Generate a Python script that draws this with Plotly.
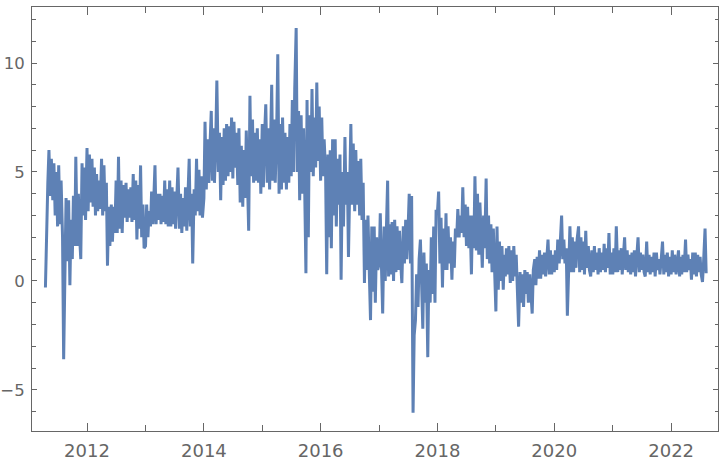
import pandas as pd
import plotly.graph_objects as go

# Roughly weekly values (4 per month, on days 1, 8, 16, 23).
# 2011 starts mid-April; 2022 ends mid-August.
v2011 = [-0.3, 2.8,
         4.5, 6.0, 3.9, 5.6,   3.7, 5.4, 3.0, 5.0,   2.5, 5.3, 2.6, 4.6,   2.0, -3.6, 0.5, 3.8,
         0.9, 3.7, -0.2, 2.8,  1.0, 3.9, 1.6, 5.7,   1.6, 4.0, 2.0, 1.0,   5.4, 3.0, 5.2, 2.8]
v2012 = [6.1, 3.2, 5.8, 3.6,   5.6, 3.4, 5.2, 3.0,   4.9, 3.2, 4.6, 3.3,   5.6, 3.0, 5.3, 3.2,
         4.5, 0.7, 3.4, 1.6,   3.5, 1.8, 3.4, 2.2,   4.6, 2.2, 5.7, 2.4,   4.6, 2.2, 4.4, 2.9,
         4.5, 2.7, 4.2, 2.9,   4.3, 2.7, 4.9, 2.8,   4.6, 1.9, 4.4, 2.4,   5.3, 2.0, 3.5, 1.5]
v2013 = [1.6, 3.5, 2.0, 3.2,   2.5, 4.1, 2.6, 3.9,   5.3, 2.6, 4.0, 2.8,   4.0, 2.6, 3.9, 2.7,
         4.6, 2.6, 4.2, 2.5,   4.6, 2.5, 4.3, 2.6,   4.1, 2.4, 3.8, 5.2,   2.4, 4.0, 2.2, 3.8,
         2.5, 4.3, 2.3, 4.2,   5.6, 2.5, 4.0, 0.8,   4.2, 3.0, 5.6, 3.2,   5.1, 3.0, 4.8, 2.9]
v2014 = [3.8, 7.3, 4.2, 6.5,   4.5, 6.2, 7.8, 4.6,   7.0, 4.5, 6.4, 9.2,   5.0, 6.8, 3.7, 6.6,
         4.4, 7.0, 4.6, 7.2,   4.8, 7.1, 5.0, 7.5,   4.7, 7.3, 5.2, 6.8,   4.4, 7.0, 3.6, 6.2,
         3.4, 6.0, 3.8, 6.9,   4.5, 2.3, 8.5, 4.8,   7.4, 4.5, 6.8, 4.6,   7.0, 4.5, 6.5, 4.0]
v2015 = [7.2, 4.3, 6.8, 8.1,   4.5, 7.0, 4.2, 6.5,   9.0, 4.6, 7.4, 4.5,   6.8, 10.4, 4.0, 7.2,
         4.2, 7.5, 4.5, 6.8,   4.2, 6.6, 4.5, 7.2,   4.8, 8.3, 5.0, 8.8,   11.6, 5.0, 7.8, 3.7,
         7.6, 4.0, 7.0, 4.4,   0.35, 8.3, 2.0, 7.6,  5.0, 8.8, 4.8, 7.5,   5.2, 9.1, 5.5, 8.0]
v2016 = [4.6, 7.5, 4.8, 6.5,   5.0, 0.3, 5.8, 2.0,   6.0, 1.5, 6.5, 3.0,   6.5, 2.5, 5.6, 3.5,
         5.8, 0.05, 5.0, 2.5,  6.6, 3.5, 5.0, 1.1,   5.5, 7.2, 3.5, 6.3,   3.2, 6.0, 3.5, 5.5,
         3.0, 5.6, 2.8, 4.5,   -0.1, 2.8, 0.5, 3.0,  0.2, -1.8, 2.5, -0.5, 2.5, -1.0, 2.0, 0.5]
v2017 = [0.8, 3.1, 0.5, -1.5,  2.5, 0.0, 2.6, 4.6,   0.2, 2.6, 0.3, 2.7,   0.0, 2.8, 0.4, 2.5,
         0.5, 2.3, 0.8, -0.1,  2.5, 0.8, 2.8, 1.0,   2.4, 4.0, 0.8, 3.9,   -6.05, -2.5, -1.8, 0.3,
         -1.2, 1.0, 1.9, -0.8, -2.2, 1.3, -1.0, 0.8, -3.5, 0.5, -1.0, 2.0, -0.6, 2.5, -1.0, 3.2]
v2018 = [3.2, 4.1, 0.8, 2.9,   -0.3, 2.4, 0.5, 3.1,  0.5, 2.5, 0.8, 2.0,   0.05, 1.8, 0.6, 2.4,
         2.0, 3.3, 2.0, 3.0,   2.2, 4.3, 2.0, 3.5,   1.6, 3.4, 1.5, 3.0,   0.3, 3.0, 1.5, 4.8,
         1.4, 4.0, 1.2, 3.6,   1.8, 0.6, 3.0, 1.5,   4.7, 1.0, 3.0, 0.8,   2.6, 0.4, 2.4, 0.2]
v2019 = [-1.4, 2.5, -0.4, 1.8, 0.0, 1.6, -0.4, 1.2, 0.2, 1.5, 0.3, 1.6,   -0.1, 1.4, 0.0, 1.6,
         0.2, 1.2, -0.6, -2.1, 0.4, -1.0, 0.3, -1.2, 0.5, -0.6, 0.4, -1.0, 0.3, -0.8, -1.5, 0.5,
         1.0, -0.2, 1.1, 0.1,  1.4, 0.1, 1.2, 0.3,   1.3, 0.2, 1.0, 1.9,   0.3, 1.4, 0.3, 1.2]
v2020 = [0.4, 1.4, 0.5, 1.9,   0.8, 2.0, 3.0, 1.0,   1.9, 0.8, 1.5, -1.6,  1.0, 2.5, 0.4, 2.0,
         0.4, 1.8, 0.6, 1.9,   2.5, 0.4, 2.0, 0.5,   1.8, 0.3, 2.3, 0.6,   1.6, 0.5, 0.2, 1.4,
         0.4, 1.6, 0.5, 1.3,   0.3, 1.5, 0.4, 1.3,   0.5, 1.7, 0.4, 1.5,   0.6, 2.2, 0.3, 1.3]
v2021 = [0.3, 1.5, 0.4, 2.5,   0.4, 1.4, 0.5, 1.5,   0.3, 1.3, 2.0, 0.5,   1.4, 0.4, 1.2, 0.3,
         1.3, 0.4, 1.4, 0.2,   1.2, 2.0, 0.4, 1.3,   0.5, 1.2, 0.4, 0.2,   1.8, 0.4, 1.2, 0.3,
         1.1, 0.4, 1.3, 0.2,   1.3, 0.5, 1.0, 0.3,   1.1, 1.8, 0.3, 1.2,   0.4, 1.3, 0.2, 1.1]
v2022 = [0.3, 1.4, 0.4, 1.2,   0.3, 1.0, 1.4, 0.2,   1.1, 0.3, 1.2, 0.4,   1.9, 0.4, 1.2, 0.5,
         1.0, 0.05, 1.3, 0.3,  1.3, 0.2, 1.2, 0.4,   1.1, 0.3, -0.05, 0.9,
         2.4, 0.35]

week_days = [1, 8, 16, 23]
series_by_year = {2011: v2011, 2012: v2012, 2013: v2013, 2014: v2014, 2015: v2015, 2016: v2016,
                  2017: v2017, 2018: v2018, 2019: v2019, 2020: v2020, 2021: v2021, 2022: v2022}

dates, values = [], []
for year, vals in series_by_year.items():
    if year == 2011:
        slots = [(4, 16), (4, 23)] + [(m, d) for m in range(5, 13) for d in week_days]
    elif year == 2022:
        slots = [(m, d) for m in range(1, 8) for d in week_days] + [(8, 1), (8, 8)]
    else:
        slots = [(m, d) for m in range(1, 13) for d in week_days]
    assert len(slots) == len(vals), (year, len(slots), len(vals))
    for (m, d), v in zip(slots, vals):
        dates.append(pd.Timestamp(year, m, d))
        values.append(v)

x_range = ["2011-01-22", "2022-10-21"]
y_range = [-6.89, 12.57]
year_tick_labels = ["2012", "2014", "2016", "2018", "2020", "2022"]
y_tick_vals = [-5, 0, 5, 10]
y_tick_text = ["\u22125", "0", "5", "10"]

AX = "#666666"
FONT = dict(family="DejaVu Sans", size=18, color="#666666")
YFONT = dict(family="DejaVu Sans", size=16.5, color="#666666")

fig = go.Figure(go.Scatter(
    x=dates, y=values, mode="lines",
    line=dict(color="#5E81B5", width=3),
    hoverinfo="skip",
))

fig.update_layout(
    width=720, height=462,
    margin=dict(l=32, r=2, t=7, b=31, pad=0),
    paper_bgcolor="white", plot_bgcolor="white",
    showlegend=False,
    font=FONT,
)

fig.update_xaxes(
    type="date", range=x_range, automargin=False,
    tickmode="array",
    tickvals=[f"{y}-01-01" for y in year_tick_labels],
    ticktext=year_tick_labels,
    ticks="inside", ticklen=8, tickwidth=1, tickcolor=AX,
    minor=dict(dtick="M12", tick0="2011-01-01", ticks="inside", ticklen=6,
               tickwidth=1, tickcolor=AX, showgrid=False),
    showline=True, linecolor=AX, linewidth=1, mirror="ticks",
    showgrid=False, zeroline=False,
    tickfont=FONT, ticklabelstandoff=3,
)

fig.update_yaxes(
    range=y_range, automargin=False,
    tickmode="array", tickvals=y_tick_vals, ticktext=y_tick_text,
    ticks="inside", ticklen=5, tickwidth=1, tickcolor=AX,
    minor=dict(dtick=1, tick0=0, ticks="inside", ticklen=3.5,
               tickwidth=1, tickcolor=AX, showgrid=False),
    showline=True, linecolor=AX, linewidth=1, mirror="ticks",
    showgrid=False, zeroline=False,
    tickfont=YFONT, ticklabelstandoff=3,
)

fig.write_html(
    "out.html",
    config={"displayModeBar": False},
    post_script="document.body.style.margin='0';document.body.style.padding='0';"
                "document.documentElement.style.overflow='hidden';",
)
